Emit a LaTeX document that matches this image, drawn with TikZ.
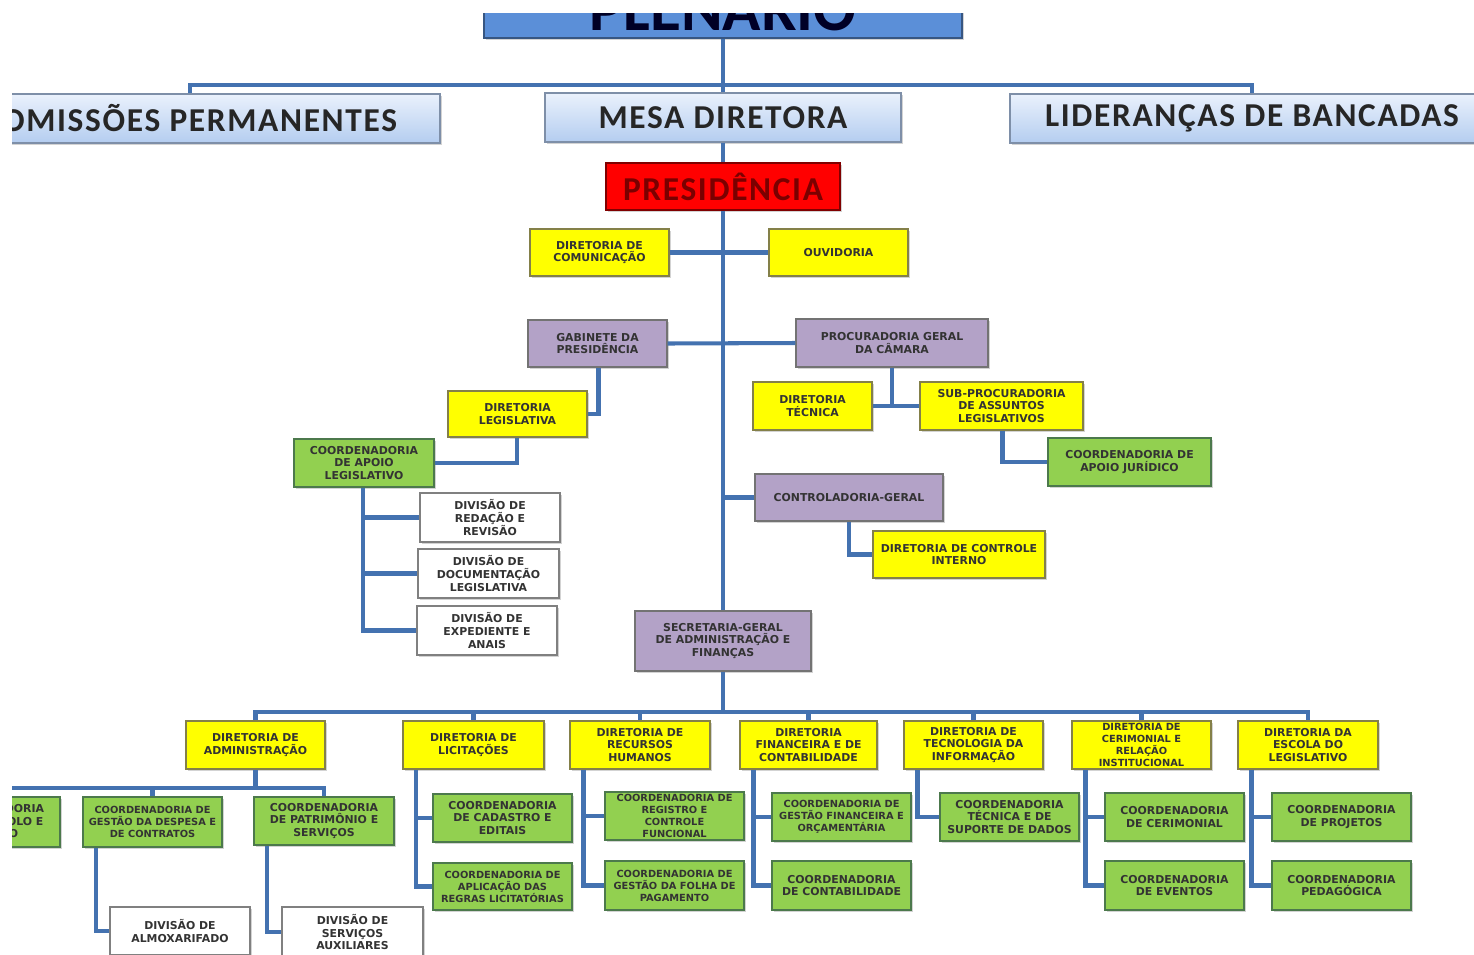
\documentclass[tikz,border=0pt]{standalone}
\usepackage{fontspec}
\setmainfont{Carlito}
\newfontfamily\boxfont{DejaVu Sans}
\newfontfamily\topfont{Carlito}[LetterSpace=5]
\usepackage{xcolor}
\usepackage{tikz}
\usetikzlibrary{calc, shadows}

\definecolor{linkblue}{HTML}{4472B0}
\definecolor{boxyellow}{HTML}{FFFF00}
\definecolor{boxgreen}{HTML}{92D050}
\definecolor{boxlilac}{HTML}{B3A2C7}
\definecolor{plenblue}{HTML}{5B8FD8}
\definecolor{topblueA}{HTML}{EAF1FC}
\definecolor{topblueB}{HTML}{B4CDF0}
\definecolor{presred}{HTML}{FF0000}
\definecolor{presdark}{HTML}{7A0000}

% box from pixel corners (x1,y1)-(x2,y2)
\newcommand{\orgbox}[7]{%
  \node[#1, minimum width={(#5-(#3))*0.02cm}, minimum height={(#6-(#4))*0.02cm}]
    (#2) at ({(#3+#5)/2},{(#4+#6)/2}) {#7};}

\begin{document}
\begin{tikzpicture}[
  x=0.02cm, y=-0.02cm,
  every node/.style={align=center, inner sep=1pt},
  shade/.style={drop shadow={shadow xshift=1.3pt, shadow yshift=-1.3pt, opacity=.35}},
  small/.style={shade, line width=0.6pt, text=black!80,
    font=\boxfont\bfseries\fontsize{6.2}{7.2}\selectfont},
  tight/.style={font=\boxfont\bfseries\fontsize{5.6}{6.8}\selectfont},
  amarelo/.style={small, fill=boxyellow, draw=yellow!45!black},
  verde/.style={small, fill=boxgreen, draw=green!25!black!70},
  lilas/.style={small, fill=boxlilac, draw=black!55},
  branco/.style={small, fill=white, draw=black!50, line width=1.4pt},
  topo/.style={shade, top color=topblueA, bottom color=topblueB, draw=topblueB!70!black,
    line width=0.6pt, text=black!85, font=\topfont\bfseries\fontsize{19}{21}\selectfont},
  plenbox/.style={shade, fill=plenblue, draw=plenblue!60!black, line width=0.6pt,
    text=black!85!blue, font=\bfseries\fontsize{36}{36}\selectfont},
  presbox/.style={shade, fill=presred, draw=presred!50!black, line width=0.6pt,
    text=presdark, font=\topfont\bfseries\fontsize{19}{21}\selectfont},
  link/.style={draw=linkblue, line width=2.3pt}
]
\useasboundingbox (0,0) rectangle (1474,954);
\clip (12,13) rectangle (1474,954);

% top levels
\orgbox{plenbox}{plen}{484}{-30}{962}{38}{PLENÁRIO}
\orgbox{topo}{com}{-60}{94}{440}{143}{COMISSÕES PERMANENTES}
\orgbox{topo}{mesa}{545}{93}{901}{142}{MESA DIRETORA}
\orgbox{topo}{lid}{1010}{94}{1494}{143}{LIDERANÇAS DE BANCADAS}
\orgbox{presbox}{pres}{606}{163}{840}{210}{PRESIDÊNCIA}

% presidency
\orgbox{amarelo}{dcom}{530}{229}{669}{276}{DIRETORIA DE\\COMUNICAÇÃO}
\orgbox{amarelo}{ouv}{769}{229}{908}{276}{OUVIDORIA}
\orgbox{lilas}{gab}{528}{320}{667}{367}{GABINETE DA\\PRESIDÊNCIA}
\orgbox{lilas}{proc}{796}{319}{988}{367}{PROCURADORIA GERAL\\DA CÂMARA}
\orgbox{amarelo}{dleg}{448}{391}{587}{437}{DIRETORIA\\LEGISLATIVA}
\orgbox{verde}{cal}{294}{439}{434}{487}{COORDENADORIA\\DE APOIO\\LEGISLATIVO}
\orgbox{amarelo}{dtec}{753}{382}{872}{430}{DIRETORIA\\TÉCNICA}
\orgbox{amarelo}{subp}{920}{382}{1083}{430}{SUB-PROCURADORIA\\DE ASSUNTOS\\LEGISLATIVOS}
\orgbox{verde}{cjur}{1048}{438}{1211}{486}{COORDENADORIA DE\\APOIO JURÍDICO}
\orgbox{branco}{dred}{420}{493}{560}{542}{DIVISÃO DE\\REDAÇÃO E\\REVISÃO}
\orgbox{branco}{ddoc}{418}{549}{559}{598}{DIVISÃO DE\\DOCUMENTAÇÃO\\LEGISLATIVA}
\orgbox{branco}{dexp}{417}{606}{557}{655}{DIVISÃO DE\\EXPEDIENTE E\\ANAIS}
\orgbox{lilas}{ctrl}{755}{474}{943}{521}{CONTROLADORIA-GERAL}
\orgbox{amarelo}{dci}{873}{531}{1045}{578}{DIRETORIA DE CONTROLE\\INTERNO}
\orgbox{lilas}{sec}{635}{611}{811}{671}{SECRETARIA-GERAL\\DE ADMINISTRAÇÃO E\\FINANÇAS}

% diretorias
\orgbox{amarelo}{dadm}{186}{721}{325}{769}{DIRETORIA DE\\ADMINISTRAÇÃO}
\orgbox{amarelo}{dlic}{403}{721}{544}{769}{DIRETORIA DE\\LICITAÇÕES}
\orgbox{amarelo}{drh}{570}{721}{710}{769}{DIRETORIA DE\\RECURSOS\\HUMANOS}
\orgbox{amarelo}{dfin}{740}{721}{877}{769}{DIRETORIA\\FINANCEIRA E DE\\CONTABILIDADE}
\orgbox{amarelo}{dti}{904}{721}{1043}{769}{DIRETORIA DE\\TECNOLOGIA DA\\INFORMAÇÃO}
\orgbox{amarelo,tight}{dcer}{1072}{721}{1211}{769}{DIRETORIA DE\\CERIMONIAL E\\RELAÇÃO\\INSTITUCIONAL}
\orgbox{amarelo}{desc}{1238}{721}{1378}{769}{DIRETORIA DA\\ESCOLA DO\\LEGISLATIVO}

% coordenadorias
\orgbox{verde}{cprot}{-80}{797}{60}{847}{COORDENADORIA\\DE PROTOCOLO E\\ARQUIVO}
\orgbox{verde,tight}{cdesp}{83}{797}{222}{847}{COORDENADORIA DE\\GESTÃO DA DESPESA E\\DE CONTRATOS}
\orgbox{verde}{cpat}{254}{797}{394}{845}{COORDENADORIA\\DE PATRIMÔNIO E\\SERVIÇOS}
\orgbox{branco}{dalm}{110}{907}{250}{955}{DIVISÃO DE\\ALMOXARIFADO}
\orgbox{branco}{dserv}{282}{907}{423}{957}{DIVISÃO DE\\SERVIÇOS\\AUXILIARES}
\orgbox{verde}{ccad}{433}{794}{572}{842}{COORDENADORIA\\DE CADASTRO E\\EDITAIS}
\orgbox{verde,tight}{capl}{433}{863}{572}{910}{COORDENADORIA DE\\APLICAÇÃO DAS\\REGRAS LICITATÓRIAS}
\orgbox{verde,tight}{creg}{605}{792}{744}{840}{COORDENADORIA DE\\REGISTRO E\\CONTROLE\\FUNCIONAL}
\orgbox{verde,tight}{cfol}{605}{861}{744}{910}{COORDENADORIA DE\\GESTÃO DA FOLHA DE\\PAGAMENTO}
\orgbox{verde,tight}{cgfo}{772}{793}{911}{841}{COORDENADORIA DE\\GESTÃO FINANCEIRA E\\ORÇAMENTÁRIA}
\orgbox{verde}{ccont}{772}{861}{911}{910}{COORDENADORIA\\DE CONTABILIDADE}
\orgbox{verde}{ctsd}{940}{793}{1079}{841}{COORDENADORIA\\TÉCNICA E DE\\SUPORTE DE DADOS}
\orgbox{verde}{ccer}{1105}{793}{1244}{841}{COORDENADORIA\\DE CERIMONIAL}
\orgbox{verde}{cev}{1105}{861}{1244}{910}{COORDENADORIA\\DE EVENTOS}
\orgbox{verde}{cproj}{1272}{793}{1411}{841}{COORDENADORIA\\DE PROJETOS}
\orgbox{verde}{cped}{1272}{861}{1411}{910}{COORDENADORIA\\PEDAGÓGICA}

\coordinate (bar1) at (723,85);
\coordinate (bar2) at (723,712);
\coordinate (bar3) at (0,788);

% trunk
\draw[link] (plen.south) -- (mesa.north);
\draw[link] (com.north) |- (bar1) -| (lid.north);
\draw[link] (mesa.south) -- (pres.north);
\draw[link] (pres.south) -- (sec.north);
\draw[link] (sec.south) -- (bar2);

% presidency branches
\draw[link] (dcom.east) -- (ouv.west);
\draw[link] (gab.east) -- (proc.west);
\draw[link] ($(gab.south west)+(71,0)$) |- (dleg.east);
\draw[link] ($(dleg.south west)+(70,0)$) |- (cal.east);
\foreach \d in {dred,ddoc,dexp}
  \draw[link] ($(cal.south west)+(70,0)$) |- (\d.west);
\draw[link] (proc.south) |- (dtec.east);
\draw[link] (proc.south) |- (subp.west);
\draw[link] ($(subp.south west)+(83,0)$) |- (cjur.west);
\draw[link] (ctrl.west) -- (ctrl.west -| pres.south);
\draw[link] (ctrl.south) |- (dci.west);

% secretaria
\draw[link] (dadm.north) |- (bar2) -| (desc.north);
\foreach \d in {dlic,drh,dfin,dti,dcer}
  \draw[link] (\d.north) -- (\d.north |- bar2);
\draw[link] (dadm.south) -- (dadm.south |- bar3);
\draw[link] (cprot.north) |- (dadm.south |- bar3) -| (cpat.north);
\draw[link] (cdesp.north) -- (cdesp.north |- bar3);
\draw[link] ($(cdesp.south west)+(14,0)$) |- (dalm.west);
\draw[link] ($(cpat.south west)+(14,0)$) |- (dserv.west);
\foreach \d/\c in {dlic/ccad, dlic/capl, drh/creg, drh/cfol, dfin/cgfo, dfin/ccont,
    dti/ctsd, dcer/ccer, dcer/cev, desc/cproj, desc/cped}
  \draw[link] ($(\d.south west)+(14,0)$) |- (\c.west);
\end{tikzpicture}
\end{document}
